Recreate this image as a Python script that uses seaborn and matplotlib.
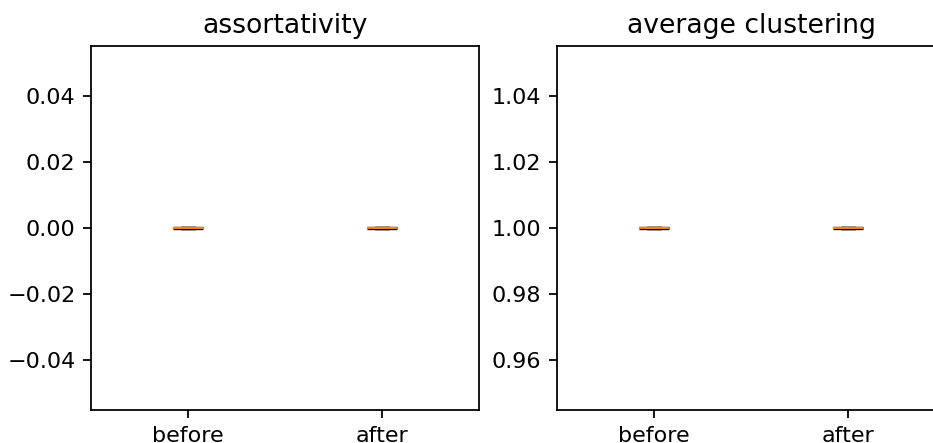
import matplotlib
matplotlib.use("Agg")
import matplotlib.pyplot as plt
import seaborn as sns
import pandas as pd

stages = ["before", "after"]
assortativity = [0.0, 0.0]
avg_clustering = [1.0, 1.0]
titles = ["assortativity", "average clustering"]

sns.set_style("ticks")
plt.rcParams["font.family"] = ["DejaVu Sans"]
plt.rcParams["text.color"] = "black"
plt.rcParams["xtick.color"] = "black"
plt.rcParams["ytick.color"] = "black"
plt.rcParams["axes.labelcolor"] = "black"

DPI = 160
fig = plt.figure(figsize=(933/DPI, 443/DPI), dpi=DPI)
ax1 = fig.add_axes([91/933, 1-410/443, 388/933, 364/443])
ax2 = fig.add_axes([557/933, 1-410/443, 388/933, 364/443])

for ax, vals, title in zip([ax1, ax2], [assortativity, avg_clustering], titles):
    df = pd.DataFrame({"stage": stages, "value": vals})
    sns.boxplot(data=df, x="stage", y="value", order=stages, ax=ax, width=0.15,
                color="white", linecolor="black", linewidth=1.5,
                medianprops={"color": "#ff7f0e", "linewidth": 1.0},
                whis=1.5, showfliers=True)
    ax.set_xlim(-0.5, 1.5)
    c = vals[0]
    ax.set_ylim(c - 0.055, c + 0.055)
    ax.set_xlabel("")
    ax.set_ylabel("")
    ax.set_title(title, fontsize=12, color="black")
    ax.tick_params(labelsize=10, length=3.5, width=0.8, color="black", labelcolor="black")
    for s in ax.spines.values():
        s.set_visible(True)
        s.set_color("black")
        s.set_linewidth(0.8)

ax1.set_yticks([-0.04, -0.02, 0.0, 0.02, 0.04])
ax1.set_yticklabels(["\u22120.04", "\u22120.02", "0.00", "0.02", "0.04"])
ax2.set_yticks([0.96, 0.98, 1.00, 1.02, 1.04])
ax2.set_yticklabels(["0.96", "0.98", "1.00", "1.02", "1.04"])

fig.savefig("out.png", dpi=DPI)
